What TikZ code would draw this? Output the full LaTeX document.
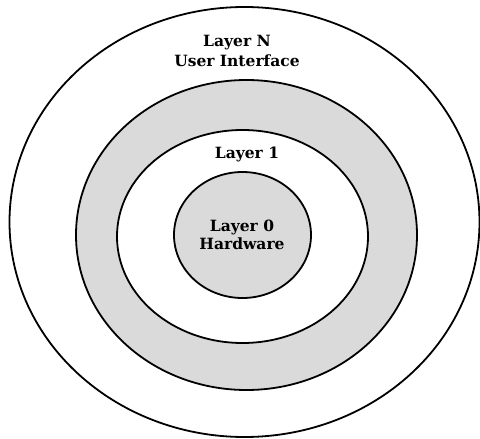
\documentclass[tikz,border=0pt]{standalone}
\usepackage{fontspec}
\setmainfont{DejaVu Serif}
\definecolor{ringgray}{RGB}{218,218,218}
\begin{document}
\begin{tikzpicture}[x=1pt,y=-1pt,
  ring/.style={draw=black,line width=1.8pt},
  lbl/.style={font=\bfseries\fontsize{15.5}{19}\selectfont,align=center,inner sep=0pt}]
\useasboundingbox (0,0) rectangle (480,439);
% concentric layers, drawn from the outside in
\draw[ring,fill=white] (244.5,222) ellipse [x radius=235,y radius=215];
\draw[ring,fill=ringgray] (246.5,235) ellipse [x radius=170.5,y radius=155];
\draw[ring,fill=white] (242.5,236.5) ellipse [x radius=125.5,y radius=106.5];
\draw[ring,fill=ringgray] (242.5,235) ellipse [x radius=68.5,y radius=63];
% layer labels
\node[lbl] (layerN) at (237,51) {Layer N\\[1pt]User Interface};
\node[lbl] (layer1) at (247,154) {Layer 1};
\node[lbl] (layer0) at (242,235) {Layer 0\\[-1pt]Hardware};
\end{tikzpicture}
\end{document}
